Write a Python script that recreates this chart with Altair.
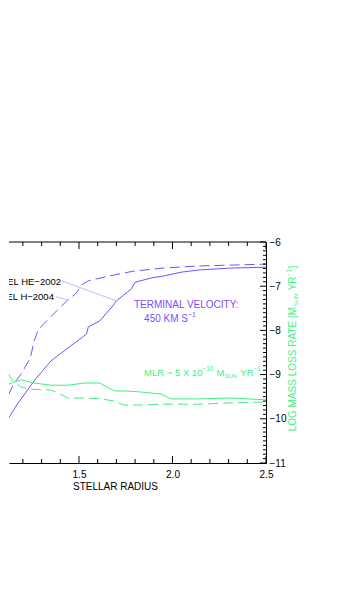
import altair as alt
import pandas as pd

# ---------------- data ----------------
radius_vel_he = [1.09, 1.15, 1.19, 1.24, 1.26, 1.28, 1.30, 1.38, 1.44, 1.48, 1.52, 1.55, 1.66, 1.79, 1.95, 2.15, 2.34, 2.50]
vel_he = [124, 179, 201, 238, 276, 299, 310, 344, 369, 382, 405, 412, 423, 434, 441, 446, 448, 450]

radius_vel_h = [1.08, 1.17, 1.26, 1.35, 1.44, 1.52, 1.54, 1.55, 1.61, 1.68, 1.70, 1.76, 1.78, 1.80, 1.89, 1.95, 2.05, 2.15, 2.31, 2.50]
vel_h = [72, 133, 186, 231, 260, 285, 292, 308, 321, 355, 367, 387, 394, 409, 419, 423, 432, 437, 441, 443]

radius_mlr_h = [1.09, 1.19, 1.26, 1.35, 1.44, 1.53, 1.61, 1.64, 1.69, 1.75, 1.82, 1.94, 1.99, 2.14, 2.31, 2.50]
mlr_h = [-9.26, -9.12, -9.19, -9.24, -9.24, -9.19, -9.19, -9.26, -9.37, -9.37, -9.39, -9.44, -9.55, -9.55, -9.53, -9.57]

radius_mlr_he = [1.12, 1.15, 1.19, 1.23, 1.35, 1.40, 1.44, 1.53, 1.62, 1.69, 1.74, 1.80, 1.95, 2.14, 2.31, 2.50]
mlr_he = [-8.96, -9.17, -9.28, -9.33, -9.35, -9.44, -9.53, -9.53, -9.55, -9.60, -9.69, -9.69, -9.67, -9.67, -9.64, -9.62]

x_label_values = [1.5, 2.0, 2.5]
x_minor_ticks = [1.2, 1.3, 1.4, 1.6, 1.7, 1.8, 1.9, 2.1, 2.2, 2.3, 2.4]
y_label_values = [-11, -10, -9, -8, -7, -6]
y_minor_ticks = [round(-11 + 0.1 * i, 1) for i in range(51) if i % 10 != 0]

model_labels = ["MODEL HE\u22122002", "MODEL H\u22122004"]
model_label_r = [1.404, 1.366]
model_label_v = [410, 376]
leader_r1 = [1.409, 1.377]
leader_v1 = [412, 376]
leader_r2 = [1.698, 1.441]
leader_v2 = [367, 369]

vel_title_text = "TERMINAL VELOCITY:"
vel_title_r, vel_title_v = 1.794, 358
# text pieces: (text, kind, word-space-before); kind n = normal, sup, sub
vel_value_pieces = [("450 KM S", "n", False), ("\u22121", "sup", False)]
vel_value_r, vel_value_v = 1.848, 326

mlr_pieces = [("MLR ~ 5 X 10", "n", False), ("\u221210", "sup", False), ("M", "n", True),
              ("SUN", "sub", False), ("YR", "n", True), ("\u22121", "sup", False)]
mlr_text_r, mlr_text_m = 1.848, -8.96

y_title_pieces = [("LOG MASS LOSS RATE [M", "n", False), ("SUN", "sub", False),
                  ("YR", "n", True), ("\u22121", "sup", False), ("]", "n", False)]

X_DOMAIN = [1.1257, 2.5]
VEL_DOMAIN = [0, 500]
MLR_DOMAIN = [-11, -6]

# ---------------- style ----------------
W, H = 257, 221
FONT = "Liberation Sans"
PURPLE = "#7a4dff"
GREEN = "#3ff07f"
LEADER = "#c4b8ff"
DASH = [10, 5]

# Arial / Liberation Sans advance widths (em units) used to chain text pieces
ADV = {"M": .833, "L": .556, "R": .722, " ": .278, "~": .584, "X": .667, "S": .667,
       "U": .722, "N": .722, "Y": .667, "K": .667, "\u2212": .584, "O": .778, "G": .778,
       "A": .667, "T": .611, "E": .667, "[": .278, "]": .278}


def tw(s, size):
    return sum(ADV.get(c, .556) for c in s) * size


def piece_layout(pieces, base, sup, sub):
    """returns list of (text, size, dx, dy) chained left to right"""
    out, x = [], 0.0
    for text, kind, gap in pieces:
        size = {"n": base, "sup": sup, "sub": sub}[kind]
        dy = {"n": 0, "sup": -4, "sub": 3}[kind]
        if gap:
            x += 0.278 * base
        out.append((text, size, x, dy))
        x += tw(text, size) + (0.5 if kind != "n" else 0)
    return out, x


xscale = alt.Scale(domain=X_DOMAIN, nice=False, zero=False)
velscale = alt.Scale(domain=VEL_DOMAIN, nice=False, zero=False)
mlrscale = alt.Scale(domain=MLR_DOMAIN, nice=False, zero=False)

xaxis = alt.Axis(values=x_label_values, format=".1f", ticks=False, domain=True,
                 domainColor="black", domainWidth=1, grid=False,
                 labelFont=FONT, labelFontSize=10, labelColor="black",
                 labelPadding=6, labelFlush=False,
                 title="STELLAR RADIUS", titleFont=FONT, titleFontSize=10,
                 titleFontWeight="normal", titleColor="black",
                 titleX=106, titleY=23, titleAlign="center", titleBaseline="middle")


def X(field="r"):
    return alt.X(f"{field}:Q", scale=xscale, axis=xaxis)


# ---------------- dataframes ----------------
df_vhe = pd.DataFrame({"r": radius_vel_he, "v": vel_he})
df_vh = pd.DataFrame({"r": radius_vel_h, "v": vel_h})
df_mh = pd.DataFrame({"r": radius_mlr_h, "m": mlr_h})
df_mhe = pd.DataFrame({"r": radius_mlr_he, "m": mlr_he})
df_labels = pd.DataFrame({"r": model_label_r, "v": model_label_v, "t": model_labels})
df_leader = pd.DataFrame({"r": leader_r1, "v": leader_v1, "r2": leader_r2, "v2": leader_v2})
df_xmaj = pd.DataFrame({"r": x_label_values})
df_xmin = pd.DataFrame({"r": x_minor_ticks})
df_ymaj = pd.DataFrame({"m": y_label_values})
df_ymin = pd.DataFrame({"m": y_minor_ticks})
df_top = pd.DataFrame({"r": [X_DOMAIN[0]], "r2": [X_DOMAIN[1]]})

vy = alt.Y("v:Q", scale=velscale, axis=None)

# ---------------- velocity (left, hidden) scale layer ----------------
line_vhe = alt.Chart(df_vhe).mark_line(color=PURPLE, strokeWidth=1, strokeDash=DASH, clip=True).encode(
    x=X(), y=vy, order="r:Q")
line_vh = alt.Chart(df_vh).mark_line(color=PURPLE, strokeWidth=1, clip=True).encode(
    x=X(), y=vy, order="r:Q")
leaders = alt.Chart(df_leader).mark_rule(color=LEADER, strokeWidth=1, clip=True).encode(
    x=X(), x2="r2:Q", y=vy, y2="v2:Q")
labels = alt.Chart(df_labels).mark_text(align="right", baseline="middle", font=FONT, fontSize=9.5,
                                        color="black", clip=True).encode(x=X(), y=vy, text="t:N")
vtitle = alt.Chart(pd.DataFrame({"r": [vel_title_r], "v": [vel_title_v], "t": [vel_title_text]})).mark_text(
    align="left", baseline="middle", font=FONT, fontSize=10, color=PURPLE, clip=True
).encode(x=X(), y=vy, text="t:N")

vel_text_layers = []
for text, size, dx, dy in piece_layout(vel_value_pieces, 10, 7, 6)[0]:
    vel_text_layers.append(
        alt.Chart(pd.DataFrame({"r": [vel_value_r], "v": [vel_value_v], "t": [text]})).mark_text(
            align="left", baseline="middle", font=FONT, fontSize=size, dx=dx, dy=dy,
            color=PURPLE, clip=True).encode(x=X(), y=vy, text="t:N"))

xmaj_b = alt.Chart(df_xmaj).mark_rule(color="black", strokeWidth=1).encode(
    x=X(), y=alt.value(H), y2=alt.value(H - 7))
xmin_b = alt.Chart(df_xmin).mark_rule(color="black", strokeWidth=1).encode(
    x=X(), y=alt.value(H), y2=alt.value(H - 4))
xmaj_t = alt.Chart(df_xmaj).mark_rule(color="black", strokeWidth=1).encode(
    x=X(), y=alt.value(0), y2=alt.value(7))
xmin_t = alt.Chart(df_xmin).mark_rule(color="black", strokeWidth=1).encode(
    x=X(), y=alt.value(0), y2=alt.value(4))
top_line = alt.Chart(df_top).mark_rule(color="black", strokeWidth=1).encode(
    x=X(), x2="r2:Q", y=alt.value(0))

vel_layer = alt.layer(line_vhe, line_vh, leaders, labels, vtitle, *vel_text_layers,
                      xmaj_b, xmin_b, xmaj_t, xmin_t, top_line)

# ---------------- mass-loss-rate (right) scale layer ----------------
mlr_axis = alt.Axis(orient="right", values=y_label_values, format="d", ticks=False, domain=True,
                    domainColor="black", domainWidth=1, grid=False,
                    labelFont=FONT, labelFontSize=10, labelColor="black", labelPadding=3,
                    title=None)
my = alt.Y("m:Q", scale=mlrscale, axis=mlr_axis)

line_mh = alt.Chart(df_mh).mark_line(color=GREEN, strokeWidth=1, clip=True).encode(
    x=X(), y=my, order="r:Q")
line_mhe = alt.Chart(df_mhe).mark_line(color=GREEN, strokeWidth=1, strokeDash=DASH, clip=True).encode(
    x=X(), y=my, order="r:Q")

mlr_text_layers = []
for text, size, dx, dy in piece_layout(mlr_pieces, 9.5, 6.5, 6)[0]:
    mlr_text_layers.append(
        alt.Chart(pd.DataFrame({"r": [mlr_text_r], "m": [mlr_text_m], "t": [text]})).mark_text(
            align="left", baseline="middle", font=FONT, fontSize=size, dx=dx, dy=dy,
            color=GREEN, clip=True).encode(x=X(), y=my, text="t:N"))

# rotated right-axis title built from pieces (reads bottom to top)
title_layout, title_len = piece_layout(y_title_pieces, 10, 6.5, 6)
title_layers = []
for text, size, dx, dy in title_layout:
    title_layers.append(
        alt.Chart(pd.DataFrame({"t": [text]})).mark_text(
            align="left", baseline="middle", font=FONT, fontSize=size, angle=270,
            dx=dx, dy=dy, color=GREEN).encode(
            x=alt.value(W + 27), y=alt.value(H / 2 - 4 + title_len / 2), text="t:N"))

ymaj = alt.Chart(df_ymaj).mark_rule(color="black", strokeWidth=1).encode(
    y=my, x=alt.value(W), x2=alt.value(W - 6))
ymin = alt.Chart(df_ymin).mark_rule(color="black", strokeWidth=1).encode(
    y=my, x=alt.value(W), x2=alt.value(W - 3))

mlr_layer = alt.layer(line_mh, line_mhe, *mlr_text_layers, ymaj, ymin, *title_layers)

chart = alt.layer(vel_layer, mlr_layer).resolve_scale(y="independent").properties(
    width=W, height=H,
    padding={"left": 0, "top": 229, "right": 10, "bottom": 10},
    background="white",
).configure_view(stroke=None)

chart.save("out.html", embed_options={"renderer": "svg", "actions": False})
